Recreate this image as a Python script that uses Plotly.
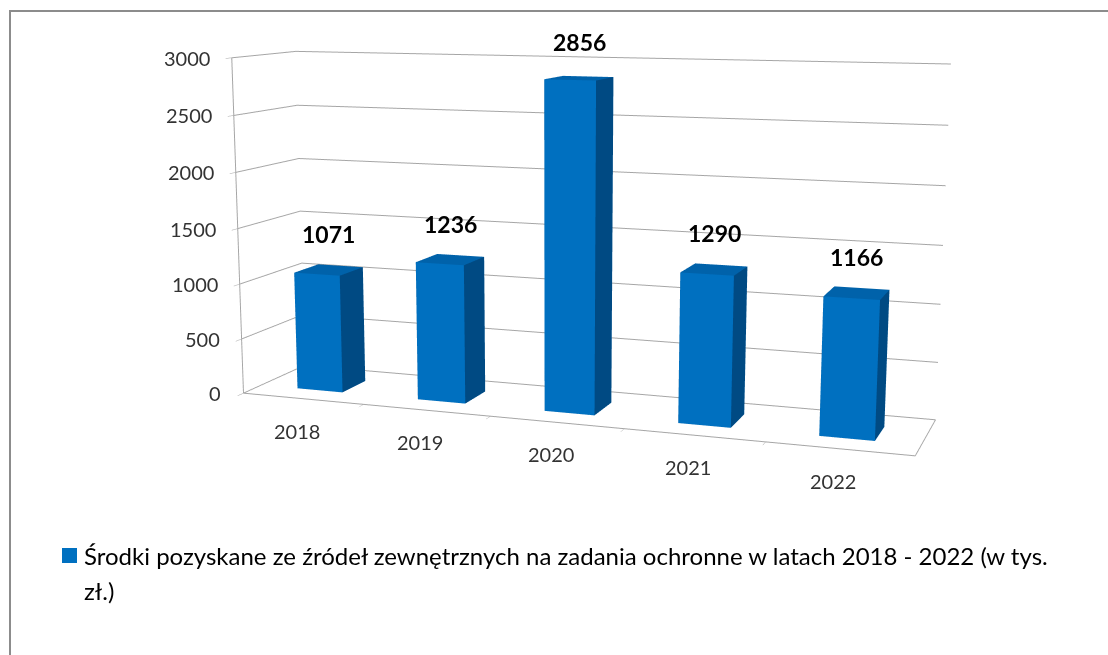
import math
import plotly.graph_objects as go

years = ["2018", "2019", "2020", "2021", "2022"]
values = [1071, 1236, 2856, 1290, 1166]
z_ticks = [0, 500, 1000, 1500, 2000, 2500, 3000]
legend_line1 = "Środki pozyskane ze źródeł zewnętrznych na zadania ochronne w latach 2018 - 2022 (w tys."
legend_line2 = "zł.)"

W_PX = 1108
FIG_H = 1445     # taller canvas gives the narrower field of view of the original 3-D chart
SHIFT = 422      # the canvas is moved up so that the view centre sits near the top of the window

def px(x):
    return x / W_PX

def py(y):
    return 1 - (y + SHIFT) / FIG_H

BAR_W = 0.38
Y0, Y1 = 0.28, 0.68
C_FRONT = "#0070C0"
C_SIDE = "#004A83"
C_TOP = "#0062AA"
C_HIDDEN = "#005A9C"
TXT = "#333333"

xs, ys, zs, I, J, K, fc = [], [], [], [], [], [], []
for idx, v in enumerate(values):
    x0, x1 = idx - BAR_W / 2, idx + BAR_W / 2
    base = len(xs)
    verts = [(x0, Y0, 0), (x1, Y0, 0), (x1, Y1, 0), (x0, Y1, 0),
             (x0, Y0, v), (x1, Y0, v), (x1, Y1, v), (x0, Y1, v)]
    for vx, vy, vz in verts:
        xs.append(vx); ys.append(vy); zs.append(vz)
    faces = [((0, 1, 5), C_FRONT), ((0, 5, 4), C_FRONT),
             ((1, 2, 6), C_SIDE), ((1, 6, 5), C_SIDE),
             ((4, 5, 6), C_TOP), ((4, 6, 7), C_TOP),
             ((3, 7, 6), C_HIDDEN), ((3, 6, 2), C_HIDDEN),
             ((0, 4, 7), C_HIDDEN), ((0, 7, 3), C_HIDDEN),
             ((0, 3, 2), C_HIDDEN), ((0, 2, 1), C_HIDDEN)]
    for (a, b, c), col in faces:
        I.append(base + a); J.append(base + b); K.append(base + c); fc.append(col)

fig = go.Figure()
fig.add_trace(go.Mesh3d(
    x=xs, y=ys, z=zs, i=I, j=J, k=K, facecolor=fc, flatshading=True,
    lighting=dict(ambient=1.0, diffuse=0.0, specular=0.0, roughness=1.0, fresnel=0.0),
    hoverinfo="skip", showlegend=False,
))

# scene annotations: value labels, category labels, value-axis labels
scene_ann = []
for idx, v in enumerate(values):
    scene_ann.append(dict(x=idx, y=(Y0 + Y1) / 2, z=v, text="<b>%d</b>" % v, showarrow=False,
                          xanchor="center", yanchor="middle", yshift=36,
                          font=dict(family="Lato", size=23, color="#000000")))
for idx, lab in enumerate(years):
    scene_ann.append(dict(x=idx, y=0, z=0, text=lab, showarrow=False, xanchor="center",
                          yanchor="middle", xshift=-6, yshift=-32,
                          font=dict(family="Lato", size=20, color=TXT)))
for t in z_ticks:
    scene_ann.append(dict(x=-0.5, y=0, z=t, text=str(t), showarrow=False, xanchor="right",
                          yanchor="middle", xshift=-20,
                          font=dict(family="Lato", size=20, color=TXT)))

# camera: pitch 11 deg, yaw ~20 deg
PSI, THETA = math.radians(19.8), math.radians(11.0)
eye = (1.604, -4.672, 0.774)
dvec = (-math.sin(PSI) * math.cos(THETA), math.cos(PSI) * math.cos(THETA), -math.sin(THETA))
cen = tuple(e + 5.0 * d for e, d in zip(eye, dvec))

axis_common = dict(showbackground=False, showspikes=False, zeroline=False, title=dict(text=""),
                   showticklabels=False)
fig.update_layout(
    width=W_PX, height=FIG_H, margin=dict(l=0, r=0, t=0, b=0),
    paper_bgcolor="white", hovermode=False, font=dict(family="Lato", color=TXT),
    scene=dict(
        domain=dict(x=[0.0, 1.0], y=[0.0, 1.0]),
        xaxis=dict(range=[-0.5, 4.5], tickvals=[i + 0.5 for i in range(len(years) - 1)],
                   showgrid=False, showline=True, linecolor="#A6A6A6", linewidth=2,
                   ticks="outside", ticklen=8, tickcolor="#A6A6A6", **axis_common),
        yaxis=dict(range=[0, 1], showgrid=False, showline=True,
                   linecolor="#A6A6A6", linewidth=2, **axis_common),
        zaxis=dict(range=[0, 3000], tickvals=z_ticks, showgrid=True,
                   gridcolor="#A6A6A6", gridwidth=2, showline=True, linecolor="#A6A6A6",
                   linewidth=2, ticks="outside", ticklen=8, tickcolor="#A6A6A6", **axis_common),
        aspectmode="manual", aspectratio=dict(x=2.0, y=0.39, z=1.0),
        camera=dict(eye=dict(x=eye[0], y=eye[1], z=eye[2]),
                    center=dict(x=cen[0], y=cen[1], z=cen[2]),
                    up=dict(x=0, y=0, z=1), projection=dict(type="perspective")),
        annotations=scene_ann,
    ),
    annotations=[
        dict(x=px(82), y=py(555), xref="paper", yref="paper", xanchor="left",
             yanchor="middle", text=legend_line1, showarrow=False,
             font=dict(family="Lato", size=24, color="#000000")),
        dict(x=px(82), y=py(590), xref="paper", yref="paper", xanchor="left",
             yanchor="middle", text=legend_line2, showarrow=False,
             font=dict(family="Lato", size=24, color="#000000")),
    ],
    shapes=[
        dict(type="rect", xref="paper", yref="paper", x0=px(10), x1=px(1130),
             y0=py(700), y1=py(11), line=dict(color="#8C8C8C", width=2)),
        dict(type="rect", xref="paper", yref="paper", x0=px(62), x1=px(77),
             y0=py(563), y1=py(548), line=dict(width=0), fillcolor=C_FRONT),
    ],
)
fig.write_html(
    "out.html", config={"displayModeBar": False},
    post_script=("document.body.style.margin='0px';document.body.style.overflow='hidden';"
                 "document.getElementById('{plot_id}').style.marginTop='-%dpx';" % SHIFT),
)
